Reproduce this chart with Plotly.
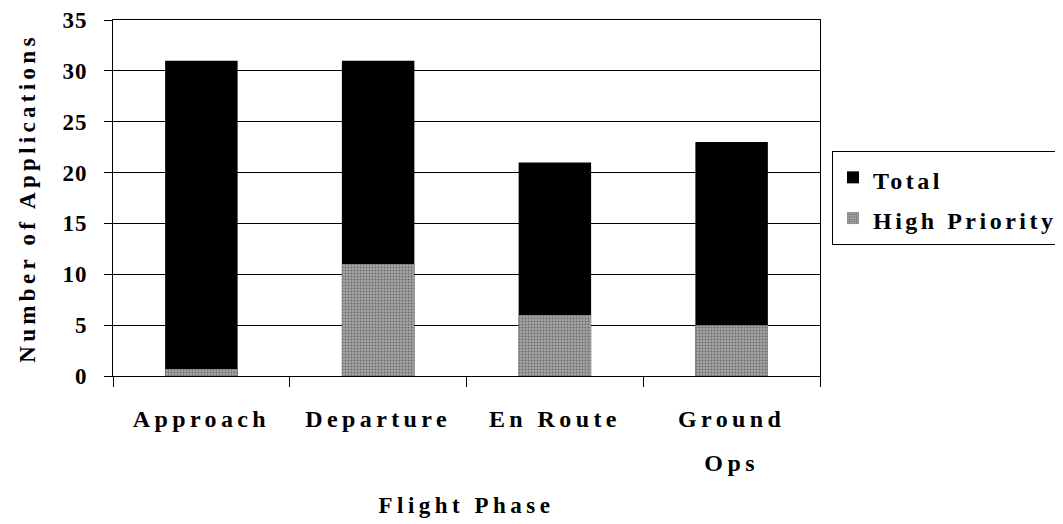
import plotly.graph_objects as go

categories = ["Approach", "Departure", "En Route", "Ground<br>Ops"]
total = [31, 31, 21, 23]
high_priority = [0.7, 11, 6, 5]
y_ticks = [0, 5, 10, 15, 20, 25, 30, 35]

FONT = "Liberation Serif"


def sp(text, ls=3, size=None):
    style = "letter-spacing:%spx" % ls
    if size:
        style += ";font-size:%dpx" % size
    return "<span style='%s'><b>%s</b></span>" % (style, text)


fig = go.Figure()
fig.add_trace(go.Bar(
    x=categories, y=total, name=sp("Total", 3.5, 24),
    marker=dict(color="black", line=dict(color="black", width=0)),
    width=0.41,
))
fig.add_trace(go.Bar(
    x=categories, y=high_priority, name=sp("High Priority", 3.5, 24),
    marker=dict(color="#8c8c8c", line=dict(color="#555555", width=0),
                pattern=dict(shape=".", fgcolor="#3a3a3a", bgcolor="#a2a2a2",
                             size=3, solidity=0.35)),
    width=0.41,
))

# page has an 8px body margin: figure drawn 8px right/down of page origin
fig.update_layout(
    width=1055, height=516,
    barmode="overlay",
    plot_bgcolor="white", paper_bgcolor="white",
    margin=dict(l=105, r=243, t=12, b=148, autoexpand=False),
    font=dict(family=FONT, color="black", size=20),
    showlegend=True,
    legend=dict(
        x=1.017, y=0.632, xanchor="left", yanchor="top",
        bordercolor="black", borderwidth=1,
        font=dict(family=FONT, size=29, color="black"),
        itemsizing="constant",
    ),
)
xt = []
for c in categories:
    parts = c.split("<br>")
    xt.append("<br>".join(sp(p, 4.4, 24) for p in parts))
fig.update_xaxes(
    automargin=False,
    showline=True, linecolor="black", linewidth=1, mirror=True,
    ticks="outside", tickson="boundaries", ticklen=10, tickcolor="black",
    tickvals=categories, ticktext=xt,
    tickfont=dict(family=FONT, size=34, color="black"),
    ticklabelstandoff=9,
    title=dict(text=sp("Flight Phase", 4.5, 23), font=dict(family=FONT, size=23), standoff=21),
    showgrid=False,
)
fig.update_yaxes(
    automargin=False,
    range=[0, 35], tickvals=y_ticks, ticktext=[sp(str(v), 1) for v in y_ticks],
    showline=True, linecolor="black", linewidth=1, mirror=True,
    ticks="outside", ticklen=8, tickcolor="black",
    showgrid=True, gridcolor="black", gridwidth=1,
    tickfont=dict(family=FONT, size=23, color="black"),
    ticklabelstandoff=12,
    title=dict(text=sp("Number of Applications", 4.3, 23), font=dict(family=FONT, size=23), standoff=20),
    zeroline=False,
)

fig.write_html("out.html")
